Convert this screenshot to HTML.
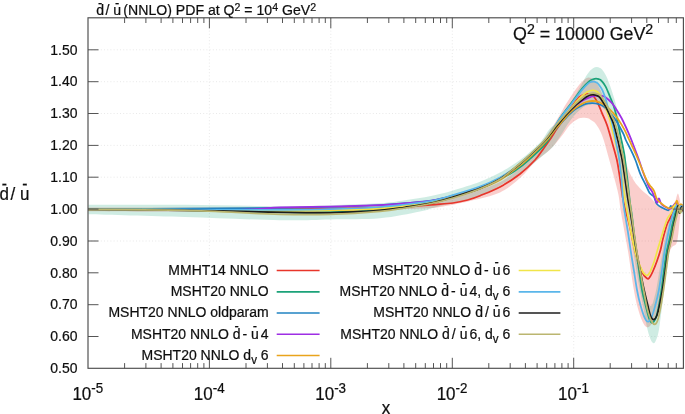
<!DOCTYPE html>
<html lang="en"><head><meta charset="utf-8"><title>d̄/ū (NNLO) PDF at Q² = 10⁴ GeV²</title>
<style>
html,body{margin:0;padding:0;background:#fff;}
body{width:685px;height:414px;overflow:hidden;}
svg{display:block;}
text{font-family:"Liberation Sans","DejaVu Sans",sans-serif;fill:#111;stroke:#111;stroke-width:0.22px;}
</style></head><body>
<svg width="685" height="414" viewBox="0 0 685 414">
<rect x="0" y="0" width="685" height="414" fill="#ffffff"/>
<defs><filter id="soft" x="0" y="0" width="685" height="414" filterUnits="userSpaceOnUse"><feGaussianBlur stdDeviation="0.32"/></filter><clipPath id="pc"><rect x="88.0" y="17.8" width="595.4" height="350.5"/></clipPath></defs>
<g filter="url(#soft)">
<rect x="-5" y="-5" width="695" height="424" fill="#ffffff"/>
<path d="M209.4 17.8V368.3M330.8 17.8V368.3M452.3 17.8V368.3M573.7 17.8V368.3M88.0 336.5H683.4M88.0 304.7H683.4M88.0 272.8H683.4M88.0 241.0H683.4M88.0 209.1H683.4M88.0 177.2H683.4M88.0 145.4H683.4M88.0 113.5H683.4M88.0 81.7H683.4M88.0 49.8H683.4" fill="none" stroke="#d0d0d0" stroke-width="1" stroke-dasharray="1 2.2" opacity="0.48"/>
<g clip-path="url(#pc)">
<path d="M88.4 207.5C104.5 207.5 153.1 207.6 185.0 207.5C216.9 207.4 255.8 207.2 280.0 207.0C304.2 206.8 313.3 206.6 330.0 206.3C346.7 206.0 365.0 205.8 380.0 205.2C395.0 204.6 410.0 203.9 420.0 203.0C430.0 202.1 431.7 201.8 440.0 200.0C448.3 198.2 460.0 195.5 470.0 192.5C480.0 189.5 491.7 186.2 500.0 182.0C508.3 177.8 514.2 172.7 520.0 167.5C525.8 162.3 530.3 156.7 535.0 151.0C539.7 145.3 544.3 138.9 548.2 133.3C552.1 127.7 555.5 122.1 558.4 117.3C561.3 112.5 563.5 108.3 565.7 104.6C568.0 100.9 569.6 98.3 571.9 95.0C574.1 91.7 577.2 87.3 579.2 84.8C581.2 82.3 582.4 81.2 584.0 80.0C585.6 78.8 587.1 77.5 588.7 77.5C590.3 77.5 592.2 78.4 593.8 79.7C595.4 81.0 596.5 82.5 598.2 85.5C599.9 88.5 602.0 93.1 604.0 98.0C606.0 102.9 607.8 108.3 610.0 115.0C612.2 121.7 615.3 131.7 617.5 138.0C619.7 144.3 621.2 147.7 623.0 153.0C624.8 158.3 626.8 165.5 628.5 170.0C630.2 174.5 631.9 177.2 633.5 179.9C635.1 182.6 636.5 184.2 638.0 186.0C639.5 187.8 640.3 188.7 642.2 190.5C644.1 192.3 647.3 194.6 649.6 196.7C651.9 198.8 653.3 200.9 655.8 202.9C658.3 204.9 662.1 207.4 664.5 208.5C666.9 209.6 668.4 209.8 670.0 209.5C671.6 209.2 673.3 208.9 674.3 207.0C675.3 205.1 675.6 200.3 676.2 198.0C676.8 195.7 677.4 193.4 677.9 193.4C678.4 193.4 678.9 195.9 679.4 198.0C679.9 200.1 680.3 204.3 681.0 206.0C681.7 207.7 683.1 207.7 683.5 208.0L683.5 205.0C683.0 206.7 681.3 210.2 680.4 215.0C679.5 219.8 679.0 229.2 678.3 234.0C677.6 238.8 677.3 241.5 676.3 243.7C675.2 245.9 673.4 244.9 672.0 247.0C670.6 249.1 669.2 251.8 668.0 256.0C666.8 260.2 666.0 266.0 665.0 272.0C664.0 278.0 663.1 286.3 662.0 292.0C660.9 297.7 659.7 301.8 658.5 306.0C657.3 310.2 656.2 314.0 655.0 317.0C653.8 320.0 652.7 322.3 651.5 324.0C650.3 325.7 649.0 327.4 647.7 327.3C646.4 327.2 645.1 326.5 643.6 323.7C642.1 320.9 640.1 316.0 638.5 310.4C636.9 304.8 635.6 299.9 633.9 290.0C632.1 280.1 629.6 260.7 628.0 251.0C626.4 241.3 625.7 238.8 624.5 232.0C623.3 225.2 621.6 216.2 620.6 210.0C619.6 203.8 619.5 200.0 618.5 195.0C617.5 190.0 616.3 185.8 614.8 180.0C613.3 174.2 611.1 166.5 609.3 160.0C607.5 153.5 605.5 145.8 604.0 140.9C602.5 136.0 601.3 133.4 600.0 130.7C598.7 128.0 597.4 126.3 596.4 124.8C595.4 123.3 594.7 122.6 593.7 121.8C592.7 121.0 591.5 120.3 590.5 119.7C589.5 119.1 589.0 118.6 588.0 118.3C587.0 118.0 585.7 117.8 584.5 117.7C583.3 117.7 582.2 117.8 581.0 118.0C579.8 118.2 579.2 118.1 577.4 119.2C575.6 120.3 572.7 121.9 570.0 124.8C567.3 127.7 564.5 132.6 561.3 136.5C558.1 140.4 555.1 144.4 551.0 148.4C546.9 152.4 541.7 155.6 536.5 160.5C531.3 165.4 526.1 172.7 520.0 178.0C513.9 183.3 508.3 188.7 500.0 192.5C491.7 196.3 480.0 198.6 470.0 201.0C460.0 203.4 448.3 205.7 440.0 207.0C431.7 208.3 430.0 208.1 420.0 208.6C410.0 209.1 395.0 209.8 380.0 210.2C365.0 210.6 346.7 210.8 330.0 211.0C313.3 211.2 304.2 211.4 280.0 211.5C255.8 211.6 216.9 211.9 185.0 211.8C153.1 211.8 104.5 211.3 88.4 211.2Z" fill="#e8261c" fill-opacity="0.225" stroke="none"/>
<path d="M88.4 204.8C104.5 204.8 153.1 204.5 185.0 204.7C216.9 204.9 255.8 206.1 280.0 206.2C304.2 206.3 313.3 205.8 330.0 205.3C346.7 204.8 367.5 204.1 380.0 203.3C392.5 202.5 396.5 201.5 405.0 200.3C413.5 199.1 423.0 197.6 431.0 196.0C439.0 194.4 444.8 192.9 453.0 190.5C461.2 188.1 472.2 184.8 480.0 181.8C487.8 178.8 493.3 176.1 500.0 172.5C506.7 168.9 513.3 165.0 520.0 160.0C526.7 155.0 535.0 147.8 540.0 142.5C545.0 137.2 546.5 132.2 550.0 128.5C553.5 124.8 557.8 123.9 561.0 120.0C564.2 116.1 566.5 109.7 569.0 105.3C571.5 100.9 573.9 97.7 576.3 93.6C578.7 89.5 581.9 83.5 583.6 80.5C585.3 77.5 585.5 77.0 586.5 75.5C587.5 74.0 588.3 72.7 589.4 71.5C590.5 70.3 591.8 69.0 593.0 68.3C594.2 67.5 595.5 67.0 596.7 67.0C597.9 67.0 599.0 67.5 600.0 68.0C601.0 68.5 601.5 68.6 602.6 70.2C603.8 71.8 605.5 74.3 606.9 77.5C608.3 80.7 609.8 84.8 611.3 89.2C612.8 93.6 614.4 98.7 615.7 103.8C617.0 108.9 618.2 114.0 619.3 120.0C620.3 126.0 621.1 133.3 622.0 140.0C622.9 146.7 623.3 150.0 624.5 160.0C625.7 170.0 627.4 187.5 629.0 200.0C630.6 212.5 632.2 223.3 634.0 235.0C635.8 246.7 638.1 260.3 640.0 270.0C641.9 279.7 643.8 287.0 645.6 293.0C647.4 299.0 649.1 306.1 650.8 306.1C652.4 306.1 654.0 299.0 655.5 293.0C657.0 287.0 658.1 278.2 659.5 270.0C660.9 261.8 662.6 251.3 664.0 244.0C665.4 236.7 666.7 231.3 668.0 226.0C669.3 220.7 670.7 215.8 672.0 212.0C673.3 208.2 674.7 204.2 676.0 203.0C677.3 201.8 678.8 204.8 680.0 205.0C681.2 205.2 682.9 204.2 683.5 204.0L683.5 214.0C682.9 213.8 681.2 212.3 680.0 213.0C678.8 213.7 677.3 214.2 676.0 218.0C674.7 221.8 673.3 228.7 672.0 236.0C670.7 243.3 669.3 252.8 668.0 262.0C666.7 271.2 665.1 282.8 664.0 291.0C662.9 299.2 662.4 304.5 661.5 311.0C660.6 317.5 659.7 325.3 658.9 330.0C658.1 334.7 657.4 336.8 656.5 339.0C655.6 341.2 654.7 343.5 653.6 343.3C652.5 343.1 651.1 340.9 650.0 338.0C648.9 335.1 647.8 331.0 646.7 326.0C645.6 321.0 644.9 315.7 643.4 308.0C641.9 300.3 639.7 289.7 638.0 280.0C636.3 270.3 634.8 261.3 633.0 250.0C631.2 238.7 628.8 223.7 627.0 212.0C625.2 200.3 623.9 190.7 622.5 180.0C621.1 169.3 619.8 156.3 618.5 148.0C617.2 139.7 616.2 134.8 615.0 130.0C613.8 125.2 612.5 122.2 611.0 119.0C609.5 115.8 607.7 113.1 606.0 111.0C604.3 108.9 602.6 107.3 600.9 106.2C599.2 105.1 597.6 104.9 596.0 104.6C594.4 104.3 592.7 104.2 591.0 104.4C589.3 104.6 587.8 104.8 586.0 105.6C584.2 106.4 582.5 107.7 580.4 109.5C578.3 111.3 575.5 114.1 573.3 116.7C571.1 119.3 568.9 122.5 567.0 125.3C565.1 128.1 563.7 130.9 562.0 133.5C560.3 136.1 558.8 138.5 557.0 141.0C555.2 143.5 554.8 145.1 551.5 148.3C548.2 151.6 542.2 156.3 537.0 160.5C531.8 164.7 526.2 169.3 520.0 173.5C513.8 177.7 506.7 181.6 500.0 185.4C493.3 189.2 490.0 192.8 480.0 196.2C470.0 199.6 450.0 203.4 440.0 206.0C430.0 208.6 430.0 209.5 420.0 211.5C410.0 213.5 395.0 216.9 380.0 218.2C365.0 219.5 346.7 219.1 330.0 219.4C313.3 219.7 304.2 220.6 280.0 220.2C255.8 219.8 216.9 218.0 185.0 217.0C153.1 216.0 104.5 214.7 88.4 214.2Z" fill="#109e73" fill-opacity="0.2" stroke="none"/>
<path d="M88.4 209.3C104.5 209.4 153.1 209.6 185.0 209.6C216.9 209.6 255.8 209.4 280.0 209.2C304.2 209.0 313.3 208.8 330.0 208.6C346.7 208.3 367.5 208.0 380.0 207.7C392.5 207.4 396.5 207.5 405.0 207.0C413.5 206.5 423.0 205.5 431.0 204.8C439.0 204.1 446.9 203.8 453.0 203.0C459.1 202.2 463.1 201.2 467.6 200.0C472.1 198.8 474.6 197.9 480.0 195.7C485.4 193.5 493.3 190.6 500.0 187.0C506.7 183.4 514.2 178.5 520.0 174.0C525.8 169.5 531.0 164.3 535.0 160.0C539.0 155.7 541.1 151.9 543.8 148.2C546.5 144.5 548.8 141.3 551.0 138.0C553.2 134.7 555.0 131.5 557.0 128.5C559.0 125.5 560.6 123.6 563.1 120.0C565.6 116.4 569.2 110.5 571.9 106.7C574.6 102.9 577.3 99.2 579.2 97.2C581.1 95.2 582.2 95.2 583.5 94.7C584.8 94.2 586.0 93.9 587.2 93.9C588.4 93.9 589.4 94.2 590.5 94.6C591.6 95.0 592.5 95.0 593.8 96.5C595.1 98.0 596.9 101.1 598.2 103.8C599.5 106.5 600.3 109.1 601.8 112.6C603.2 116.1 605.2 119.9 606.9 124.8C608.6 129.7 610.3 136.1 612.0 142.0C613.7 147.9 615.5 153.7 616.9 160.0C618.3 166.3 619.2 173.8 620.2 180.0C621.2 186.2 621.7 192.0 622.6 197.0C623.5 202.0 624.3 205.5 625.4 210.0C626.5 214.5 628.2 219.8 629.2 224.0C630.2 228.2 630.7 230.6 631.6 235.0C632.5 239.4 633.8 245.9 634.9 250.5C636.0 255.1 637.2 258.8 638.5 262.5C639.8 266.2 641.4 270.5 642.6 273.0C643.8 275.5 644.9 276.4 645.8 277.4C646.7 278.4 647.4 279.0 648.2 278.8C649.0 278.6 649.7 277.2 650.5 276.0C651.3 274.8 651.7 274.0 652.8 271.5C653.9 269.0 655.6 264.8 656.9 261.2C658.2 257.6 659.5 253.8 660.5 250.0C661.5 246.2 661.9 242.9 663.0 238.6C664.1 234.3 665.9 227.7 667.1 224.3C668.3 220.9 669.3 220.2 670.2 218.2C671.1 216.1 671.8 213.7 672.6 212.0C673.4 210.3 674.3 208.2 675.0 208.0C675.7 207.8 676.3 211.2 677.0 211.0C677.7 210.8 678.3 207.3 679.0 207.0C679.7 206.7 680.2 208.3 681.0 209.0C681.8 209.7 683.1 210.7 683.5 211.0" fill="none" stroke="#e8342a" stroke-width="1.75" stroke-linejoin="round" stroke-linecap="round"/>
<path d="M88.4 209.4C104.5 209.5 153.1 209.8 185.0 210.2C216.9 210.6 255.8 211.7 280.0 212.0C304.2 212.3 313.3 212.5 330.0 212.2C346.7 211.9 367.5 211.1 380.0 210.2C392.5 209.3 396.5 208.2 405.0 207.0C413.5 205.8 423.0 204.5 431.0 202.8C439.0 201.1 444.8 199.3 453.0 196.9C461.2 194.5 472.2 191.4 480.0 188.4C487.8 185.4 494.2 181.9 500.0 179.0C505.8 176.1 510.2 173.9 515.0 170.7C519.8 167.5 523.3 164.9 528.7 160.0C534.1 155.1 542.4 148.2 547.4 141.5C552.4 134.8 554.7 126.5 558.8 120.0C562.9 113.5 568.0 107.5 571.9 102.3C575.8 97.0 579.2 92.0 582.1 88.5C585.0 85.0 587.6 82.7 589.4 81.2C591.2 79.7 591.9 79.7 593.0 79.3C594.1 78.9 595.0 78.7 596.0 78.7C597.0 78.7 597.9 78.9 598.8 79.2C599.6 79.5 600.0 79.2 601.1 80.4C602.2 81.6 604.0 83.6 605.5 86.3C607.0 89.0 608.6 93.3 609.9 96.5C611.2 99.7 612.4 102.2 613.5 105.5C614.6 108.8 615.3 111.3 616.4 116.0C617.5 120.7 618.8 127.8 620.0 133.6C621.2 139.4 622.9 146.6 623.7 151.0C624.6 155.4 624.5 155.2 625.1 160.0C625.7 164.8 626.7 173.3 627.5 180.0C628.3 186.7 628.9 193.3 629.7 200.0C630.5 206.7 631.5 211.7 632.5 220.0C633.5 228.3 634.9 241.7 636.0 250.0C637.1 258.3 638.0 263.3 639.0 270.0C640.0 276.7 640.9 284.1 642.0 290.0C643.1 295.9 644.4 300.5 645.6 305.3C646.8 310.1 648.1 315.7 649.2 318.6C650.3 321.5 651.2 322.9 652.3 322.7C653.4 322.5 654.8 320.5 655.9 317.6C657.0 314.7 658.0 309.9 658.9 305.3C659.8 300.7 660.6 295.9 661.5 290.0C662.4 284.1 663.1 276.3 664.0 270.0C664.9 263.7 665.7 257.2 666.6 252.0C667.5 246.8 668.7 243.0 669.6 238.6C670.5 234.2 671.4 228.9 672.2 225.3C673.0 221.7 673.7 219.2 674.2 217.0C674.8 214.8 675.0 213.7 675.5 212.0C676.0 210.3 676.8 207.0 677.5 207.0C678.2 207.0 678.8 211.8 679.5 212.0C680.2 212.2 680.8 208.3 681.5 208.0C682.2 207.7 683.2 209.7 683.5 210.0" fill="none" stroke="#1aa279" stroke-width="1.75" stroke-linejoin="round" stroke-linecap="round"/>
<path d="M88.4 209.1C104.5 209.0 153.1 208.9 185.0 208.7C216.9 208.5 255.8 208.2 280.0 207.9C304.2 207.6 313.3 207.5 330.0 207.0C346.7 206.5 367.5 205.6 380.0 205.0C392.5 204.4 396.5 203.9 405.0 203.2C413.5 202.5 423.0 201.9 431.0 200.7C439.0 199.4 444.8 197.9 453.0 195.7C461.2 193.5 472.2 190.2 480.0 187.3C487.8 184.4 494.2 181.5 500.0 178.5C505.8 175.5 510.6 172.2 515.0 169.1C519.4 166.0 521.2 164.6 526.3 160.0C531.4 155.4 540.6 146.8 545.6 141.6C550.6 136.4 553.1 132.4 556.0 129.0C558.9 125.6 560.6 123.6 563.0 121.0C565.4 118.4 568.2 115.4 570.4 113.3C572.6 111.2 574.1 110.0 576.3 108.6C578.5 107.2 581.6 105.7 583.6 104.8C585.6 103.9 586.5 103.7 588.0 103.4C589.5 103.1 591.0 103.1 592.3 103.1C593.6 103.1 594.8 103.3 596.0 103.5C597.2 103.7 598.2 103.9 599.6 104.5C601.0 105.1 602.5 105.5 604.5 107.2C606.5 108.9 609.6 112.3 611.5 114.5C613.4 116.7 614.1 117.4 616.0 120.5C617.9 123.6 621.4 129.8 623.0 133.0C624.6 136.2 624.6 137.4 625.8 140.0C627.0 142.6 628.7 145.5 630.3 148.8C631.9 152.1 633.7 155.8 635.4 160.0C637.1 164.2 638.7 170.1 640.5 174.3C642.3 178.6 644.5 182.4 646.0 185.5C647.5 188.6 648.3 191.1 649.6 193.0C650.9 194.9 652.8 194.9 654.0 196.7C655.2 198.5 655.2 202.0 656.9 204.0C658.6 206.0 662.2 207.7 664.2 208.7C666.2 209.7 667.5 210.7 668.6 210.2C669.7 209.7 670.1 206.0 670.8 205.8C671.5 205.6 672.2 209.3 673.0 209.0C673.8 208.7 674.8 204.0 675.5 204.0C676.2 204.0 676.8 208.7 677.5 209.0C678.2 209.3 679.0 206.0 680.0 206.0C681.0 206.0 682.9 208.5 683.5 209.0" fill="none" stroke="#2283c2" stroke-width="1.75" stroke-linejoin="round" stroke-linecap="round"/>
<path d="M88.4 209.5C104.5 209.6 159.7 209.9 185.0 210.0C210.3 210.1 227.0 210.1 240.0 209.9C253.0 209.7 256.3 209.0 263.0 208.6C269.7 208.2 268.8 207.7 280.0 207.4C291.2 207.1 313.3 207.0 330.0 206.6C346.7 206.2 367.5 205.6 380.0 205.1C392.5 204.6 396.5 204.0 405.0 203.3C413.5 202.6 423.0 202.0 431.0 200.8C439.0 199.6 444.8 198.3 453.0 196.1C461.2 193.9 472.2 190.6 480.0 187.8C487.8 185.0 494.2 182.5 500.0 179.3C505.8 176.1 510.8 171.8 515.0 168.6C519.2 165.4 520.5 164.5 525.5 160.0C530.5 155.5 539.8 146.8 544.9 141.5C550.0 136.2 553.1 131.6 556.0 128.0C558.9 124.4 560.3 122.7 562.5 120.0C564.7 117.3 566.7 114.5 569.0 112.0C571.3 109.5 573.9 107.0 576.3 105.0C578.7 103.0 581.2 101.4 583.6 100.0C586.0 98.6 589.0 97.5 590.9 96.8C592.8 96.1 593.7 96.0 595.0 95.8C596.3 95.6 597.7 95.5 598.9 95.5C600.1 95.5 600.9 95.6 602.0 95.9C603.1 96.2 604.0 96.1 605.5 97.2C607.0 98.3 609.7 100.6 611.3 102.3C612.9 104.0 613.3 104.6 615.0 107.2C616.7 109.8 619.2 113.6 621.5 118.0C623.8 122.4 626.6 128.6 628.8 133.6C631.0 138.6 632.9 143.8 634.6 148.2C636.3 152.6 637.6 156.0 639.0 160.0C640.4 164.0 641.8 168.5 643.0 172.0C644.2 175.5 645.5 178.5 646.5 181.0C647.5 183.5 648.0 185.1 649.0 187.0C650.0 188.9 651.2 189.7 652.5 192.3C653.8 194.9 655.8 201.5 656.9 202.5C658.0 203.5 658.3 198.2 659.0 198.5C659.7 198.8 660.2 202.6 661.3 204.0C662.4 205.4 664.2 206.2 665.7 207.0C667.2 207.8 668.8 209.2 670.0 209.0C671.2 208.8 672.0 207.0 673.0 206.0C674.0 205.0 675.2 202.7 676.0 203.0C676.8 203.3 677.3 207.7 678.0 208.0C678.7 208.3 679.1 205.0 680.0 205.0C680.9 205.0 682.9 207.5 683.5 208.0" fill="none" stroke="#9e2ee4" stroke-width="1.75" stroke-linejoin="round" stroke-linecap="round"/>
<path d="M88.4 209.4C104.5 209.5 153.1 209.6 185.0 209.8C216.9 210.0 255.8 210.5 280.0 210.6C304.2 210.7 313.3 210.7 330.0 210.4C346.7 210.1 367.5 209.3 380.0 208.6C392.5 207.9 396.5 207.1 405.0 206.1C413.5 205.1 423.0 204.0 431.0 202.5C439.0 201.0 444.8 199.6 453.0 197.3C461.2 195.0 472.2 191.7 480.0 188.8C487.8 185.9 494.2 183.3 500.0 180.0C505.8 176.7 510.6 172.5 515.0 169.2C519.4 165.9 521.4 164.6 526.5 160.0C531.6 155.4 540.9 146.8 545.8 141.5C550.7 136.2 553.1 132.0 556.0 128.5C558.9 125.0 560.7 123.1 563.0 120.5C565.3 117.9 567.5 115.2 569.7 113.0C571.9 110.8 574.0 109.1 576.3 107.4C578.6 105.7 581.6 104.0 583.6 103.0C585.6 102.0 586.5 101.8 588.0 101.5C589.5 101.2 591.0 101.0 592.3 100.9C593.6 100.9 594.8 101.0 596.0 101.2C597.2 101.4 597.8 101.4 599.6 102.3C601.4 103.2 604.7 105.0 606.9 106.7C609.1 108.4 610.8 110.4 612.8 112.6C614.8 114.8 616.7 117.2 618.6 120.0C620.5 122.8 622.7 126.4 624.4 129.6C626.1 132.8 627.6 136.4 628.8 139.0C630.0 141.6 630.1 141.8 631.7 145.3C633.3 148.8 635.9 154.3 638.3 160.0C640.7 165.7 644.4 175.2 646.3 179.4C648.2 183.6 648.3 183.1 649.6 185.0C650.9 186.9 652.8 188.5 654.0 190.8C655.2 193.1 655.6 196.7 656.9 198.9C658.2 201.1 659.9 202.4 662.0 204.0C664.1 205.6 667.2 208.2 669.3 208.4C671.4 208.6 673.1 206.7 674.4 205.4C675.7 204.1 676.3 200.4 677.0 200.7C677.7 201.0 678.1 206.4 678.8 207.0C679.5 207.6 680.2 204.0 681.0 204.0C681.8 204.0 683.1 206.5 683.5 207.0" fill="none" stroke="#e9a41c" stroke-width="1.75" stroke-linejoin="round" stroke-linecap="round"/>
<path d="M88.4 209.4C104.5 209.5 153.1 209.7 185.0 209.9C216.9 210.1 255.8 210.4 280.0 210.4C304.2 210.4 313.3 210.3 330.0 210.0C346.7 209.7 367.5 209.0 380.0 208.3C392.5 207.6 396.5 206.8 405.0 205.8C413.5 204.8 423.0 203.7 431.0 202.2C439.0 200.7 444.8 199.0 453.0 196.7C461.2 194.4 472.2 191.2 480.0 188.2C487.8 185.2 494.2 182.1 500.0 178.8C505.8 175.5 510.8 171.4 515.0 168.3C519.2 165.2 520.1 164.5 525.0 160.0C529.9 155.5 539.3 147.2 544.6 141.5C549.9 135.8 553.7 129.7 557.0 125.5C560.3 121.3 562.1 119.5 564.6 116.5C567.1 113.5 569.5 110.2 571.9 107.2C574.3 104.2 577.0 101.0 579.2 98.7C581.4 96.4 583.3 94.7 585.0 93.4C586.7 92.1 588.1 91.5 589.5 91.0C590.9 90.5 591.9 90.3 593.1 90.4C594.3 90.5 595.4 90.8 596.5 91.4C597.6 92.1 598.4 92.5 599.6 94.3C600.9 96.1 602.8 99.5 604.0 102.3C605.2 105.1 605.9 108.0 606.9 111.0C607.9 114.0 609.0 117.0 609.9 120.0C610.8 123.0 610.9 124.7 612.0 129.2C613.1 133.6 615.2 141.6 616.4 146.7C617.6 151.8 618.3 154.4 619.3 160.0C620.3 165.6 621.3 173.3 622.3 180.0C623.3 186.7 624.4 195.0 625.2 200.0C626.0 205.0 625.9 204.7 626.9 210.0C627.9 215.3 629.7 225.2 631.0 232.0C632.3 238.8 633.6 245.4 634.9 250.5C636.1 255.6 637.2 258.8 638.5 262.3C639.8 265.8 641.5 269.4 642.6 271.5C643.7 273.6 644.4 274.0 645.2 274.6C646.0 275.2 646.5 275.5 647.2 275.3C647.9 275.1 648.6 274.3 649.2 273.5C649.8 272.7 649.9 272.4 650.8 270.4C651.6 268.3 653.2 264.6 654.3 261.2C655.4 257.8 656.4 253.8 657.5 250.0C658.6 246.2 659.8 242.7 661.0 238.6C662.2 234.5 663.9 228.7 665.0 225.3C666.1 221.9 666.6 220.2 667.6 218.2C668.6 216.1 670.0 215.2 671.2 213.0C672.4 210.8 674.0 205.5 675.0 205.0C676.0 204.5 676.3 209.8 677.0 210.0C677.7 210.2 678.3 206.2 679.0 206.0C679.7 205.8 680.2 208.8 681.0 209.0C681.8 209.2 683.1 207.3 683.5 207.0" fill="none" stroke="#f1e54a" stroke-width="1.75" stroke-linejoin="round" stroke-linecap="round"/>
<path d="M88.4 209.4C104.5 209.4 153.1 209.6 185.0 209.7C216.9 209.8 255.8 209.9 280.0 209.8C304.2 209.7 313.3 209.7 330.0 209.2C346.7 208.7 367.5 207.8 380.0 207.0C392.5 206.2 396.5 205.5 405.0 204.5C413.5 203.5 423.0 202.8 431.0 201.2C439.0 199.6 444.8 197.5 453.0 195.1C461.2 192.7 472.2 189.5 480.0 186.6C487.8 183.7 494.2 180.6 500.0 177.5C505.8 174.4 510.9 170.8 515.0 167.9C519.0 165.0 519.5 164.4 524.3 160.0C529.1 155.6 538.3 148.1 544.0 141.5C549.7 134.9 554.0 126.9 558.6 120.5C563.2 114.1 568.0 108.3 571.9 103.2C575.8 98.1 579.4 93.2 582.1 89.9C584.8 86.6 586.5 84.9 588.0 83.6C589.5 82.3 590.2 82.2 591.2 81.9C592.2 81.6 592.9 81.5 593.8 81.6C594.7 81.7 595.6 82.1 596.5 82.6C597.4 83.1 597.9 83.4 598.9 84.8C599.9 86.2 601.4 88.0 602.6 90.7C603.8 93.4 605.1 97.3 606.2 100.9C607.3 104.5 608.2 109.0 609.1 112.2C610.0 115.4 610.4 116.7 611.3 120.0C612.1 123.3 613.3 127.7 614.2 132.0C615.1 136.3 616.1 142.2 616.8 146.0C617.5 149.8 618.1 151.8 618.6 155.0C619.1 158.2 619.5 160.8 620.0 165.0C620.5 169.2 621.1 174.2 621.6 180.0C622.1 185.8 622.5 195.0 623.0 200.0C623.5 205.0 623.5 205.0 624.3 210.0C625.1 215.0 626.5 223.3 627.6 230.0C628.7 236.7 629.6 243.3 630.6 250.0C631.6 256.7 632.7 263.3 633.8 270.0C634.9 276.7 635.9 284.1 637.0 290.0C638.1 295.9 639.2 300.7 640.5 305.3C641.8 309.9 643.3 314.9 644.6 317.6C645.9 320.3 647.0 321.9 648.2 321.7C649.4 321.5 650.6 319.3 651.8 316.6C653.0 313.9 654.1 309.7 655.3 305.3C656.5 300.9 657.8 295.9 658.9 290.0C660.0 284.1 661.1 276.3 662.0 270.0C662.9 263.7 663.6 257.2 664.5 252.0C665.4 246.8 666.1 243.2 667.1 238.6C668.1 234.0 669.3 228.2 670.2 224.3C671.1 220.4 671.9 217.6 672.7 215.0C673.5 212.4 674.3 210.7 675.0 209.0C675.7 207.3 676.3 204.9 677.0 205.0C677.7 205.1 678.3 209.3 679.0 209.5C679.7 209.7 680.2 206.2 681.0 206.0C681.8 205.8 683.1 207.7 683.5 208.0" fill="none" stroke="#5ab6ea" stroke-width="1.75" stroke-linejoin="round" stroke-linecap="round"/>
<path d="M88.4 209.5C104.5 209.6 153.1 209.8 185.0 210.3C216.9 210.8 255.8 212.0 280.0 212.4C304.2 212.8 313.3 213.1 330.0 212.8C346.7 212.5 367.5 211.3 380.0 210.4C392.5 209.5 396.5 208.5 405.0 207.3C413.5 206.1 423.0 204.9 431.0 203.2C439.0 201.5 444.8 199.6 453.0 197.1C461.2 194.6 472.2 191.4 480.0 188.4C487.8 185.4 494.2 182.4 500.0 179.0C505.8 175.6 510.9 171.1 515.0 167.9C519.1 164.7 519.5 164.4 524.4 160.0C529.2 155.6 538.6 147.3 544.1 141.5C549.6 135.7 553.8 129.4 557.5 125.0C561.2 120.6 563.0 118.4 566.1 115.0C569.2 111.6 573.4 107.4 576.3 104.7C579.2 102.0 581.6 100.2 583.6 98.7C585.6 97.2 587.0 96.3 588.5 95.6C590.0 94.9 591.0 94.7 592.3 94.6C593.5 94.5 594.8 94.8 596.0 95.2C597.2 95.6 598.3 95.8 599.6 97.2C600.9 98.6 602.6 101.6 604.0 103.8C605.4 106.0 606.6 108.3 607.7 110.5C608.8 112.7 609.6 114.8 610.6 117.0C611.6 119.2 612.3 119.7 613.5 123.5C614.7 127.3 616.6 135.2 617.8 140.0C618.9 144.8 619.7 148.7 620.4 152.0C621.1 155.3 621.4 155.3 622.2 160.0C623.0 164.7 624.2 173.3 625.2 180.0C626.2 186.7 627.2 194.7 628.1 200.0C629.0 205.3 629.4 206.7 630.3 212.0C631.2 217.3 632.5 225.7 633.5 232.0C634.5 238.3 635.2 243.7 636.3 250.0C637.4 256.3 638.7 263.3 640.0 270.0C641.3 276.7 642.8 284.1 644.1 290.0C645.4 295.9 646.6 300.9 647.7 305.3C648.8 309.7 649.8 314.2 650.8 316.6C651.8 319.0 652.8 319.8 653.8 319.6C654.8 319.4 655.9 318.2 656.9 315.5C657.9 312.8 659.1 307.6 660.0 303.3C660.9 299.1 661.6 295.6 662.5 290.0C663.4 284.4 664.5 276.3 665.4 270.0C666.3 263.7 667.1 257.2 668.1 252.0C669.1 246.8 670.3 243.0 671.2 238.6C672.1 234.2 672.9 229.4 673.7 225.3C674.6 221.2 675.6 217.2 676.3 214.0C677.0 210.8 677.3 206.2 677.8 206.0C678.3 205.8 678.9 212.8 679.5 213.0C680.1 213.2 680.8 207.3 681.5 207.0C682.2 206.7 683.2 210.3 683.5 211.0" fill="none" stroke="#1c1c1c" stroke-width="1.75" stroke-linejoin="round" stroke-linecap="round"/>
<path d="M88.4 209.6C104.5 209.7 153.1 209.6 185.0 210.4C216.9 211.2 255.8 213.6 280.0 214.3C304.2 215.0 313.3 214.9 330.0 214.4C346.7 213.9 367.5 212.5 380.0 211.4C392.5 210.3 396.5 209.3 405.0 208.0C413.5 206.7 423.0 205.2 431.0 203.5C439.0 201.8 444.8 200.5 453.0 198.0C461.2 195.5 472.2 191.8 480.0 188.7C487.8 185.6 494.2 182.8 500.0 179.3C505.8 175.8 511.0 170.7 515.0 167.5C519.0 164.3 519.1 164.3 523.9 160.0C528.6 155.7 538.1 147.3 543.5 141.5C548.9 135.7 552.7 129.4 556.2 125.0C559.8 120.6 561.7 118.5 564.8 115.0C567.9 111.5 572.0 107.2 575.0 104.3C578.0 101.4 580.3 99.4 582.5 97.7C584.7 96.0 586.5 95.0 588.2 94.3C589.9 93.5 591.3 93.3 592.8 93.2C594.3 93.1 595.6 93.3 597.0 93.8C598.4 94.3 599.5 94.6 600.9 96.1C602.3 97.6 604.1 100.7 605.5 103.0C606.9 105.3 608.1 107.7 609.2 110.0C610.3 112.3 611.1 114.4 612.1 116.6C613.1 118.8 613.9 119.3 615.1 123.3C616.4 127.3 618.2 134.4 619.6 140.5C621.0 146.6 622.5 153.4 623.7 160.0C624.9 166.6 625.6 173.3 626.6 180.0C627.6 186.7 628.5 193.3 629.5 200.0C630.5 206.7 631.1 211.7 632.3 220.0C633.5 228.3 635.3 241.7 636.6 250.0C637.9 258.3 638.8 263.3 640.0 270.0C641.2 276.7 642.3 283.3 643.6 290.0C644.9 296.7 646.3 305.1 647.7 310.4C649.1 315.7 650.5 319.4 651.8 321.7C653.1 324.0 654.3 324.5 655.3 324.2C656.3 323.9 656.9 322.8 657.9 319.6C658.9 316.5 660.1 310.2 661.0 305.3C661.9 300.4 662.6 295.9 663.5 290.0C664.4 284.1 665.4 276.3 666.2 270.0C667.1 263.7 667.7 257.2 668.6 252.0C669.5 246.8 670.8 243.0 671.8 238.6C672.8 234.2 673.5 229.2 674.4 225.3C675.2 221.4 676.2 218.1 676.9 215.0C677.6 211.9 678.0 207.3 678.6 207.0C679.2 206.7 679.7 212.8 680.3 213.0C680.9 213.2 681.5 208.5 682.0 208.0C682.5 207.5 683.2 209.7 683.5 210.0" fill="none" stroke="#bbb670" stroke-width="1.75" stroke-linejoin="round" stroke-linecap="round"/>
</g>
<rect x="89" y="257.5" width="480" height="110" fill="#ffffff"/>
<path d="M124.6 368.3v-5.2M124.6 17.8v5.2M145.9 368.3v-5.2M145.9 17.8v5.2M161.1 368.3v-5.2M161.1 17.8v5.2M172.9 368.3v-5.2M172.9 17.8v5.2M182.5 368.3v-5.2M182.5 17.8v5.2M190.6 368.3v-5.2M190.6 17.8v5.2M197.7 368.3v-5.2M197.7 17.8v5.2M203.9 368.3v-5.2M203.9 17.8v5.2M209.4 368.3v-10.5M209.4 17.8v10.5M246.0 368.3v-5.2M246.0 17.8v5.2M267.4 368.3v-5.2M267.4 17.8v5.2M282.5 368.3v-5.2M282.5 17.8v5.2M294.3 368.3v-5.2M294.3 17.8v5.2M303.9 368.3v-5.2M303.9 17.8v5.2M312.0 368.3v-5.2M312.0 17.8v5.2M319.1 368.3v-5.2M319.1 17.8v5.2M325.3 368.3v-5.2M325.3 17.8v5.2M330.8 368.3v-10.5M330.8 17.8v10.5M367.4 368.3v-5.2M367.4 17.8v5.2M388.8 368.3v-5.2M388.8 17.8v5.2M403.9 368.3v-5.2M403.9 17.8v5.2M415.7 368.3v-5.2M415.7 17.8v5.2M425.3 368.3v-5.2M425.3 17.8v5.2M433.5 368.3v-5.2M433.5 17.8v5.2M440.5 368.3v-5.2M440.5 17.8v5.2M446.7 368.3v-5.2M446.7 17.8v5.2M452.3 368.3v-10.5M452.3 17.8v10.5M488.8 368.3v-5.2M488.8 17.8v5.2M510.2 368.3v-5.2M510.2 17.8v5.2M525.4 368.3v-5.2M525.4 17.8v5.2M537.1 368.3v-5.2M537.1 17.8v5.2M546.7 368.3v-5.2M546.7 17.8v5.2M554.9 368.3v-5.2M554.9 17.8v5.2M561.9 368.3v-5.2M561.9 17.8v5.2M568.1 368.3v-5.2M568.1 17.8v5.2M573.7 368.3v-10.5M573.7 17.8v10.5M610.2 368.3v-5.2M610.2 17.8v5.2M631.6 368.3v-5.2M631.6 17.8v5.2M646.8 368.3v-5.2M646.8 17.8v5.2M658.5 368.3v-5.2M658.5 17.8v5.2M668.2 368.3v-5.2M668.2 17.8v5.2M676.3 368.3v-5.2M676.3 17.8v5.2M88.0 336.5h10.5M683.4 336.5h-10.5M88.0 304.7h10.5M683.4 304.7h-10.5M88.0 272.8h10.5M683.4 272.8h-10.5M88.0 241.0h10.5M683.4 241.0h-10.5M88.0 209.1h10.5M683.4 209.1h-10.5M88.0 177.2h10.5M683.4 177.2h-10.5M88.0 145.4h10.5M683.4 145.4h-10.5M88.0 113.5h10.5M683.4 113.5h-10.5M88.0 81.7h10.5M683.4 81.7h-10.5M88.0 49.8h10.5M683.4 49.8h-10.5" fill="none" stroke="#555555" stroke-width="1.0"/>
<rect x="88.0" y="17.8" width="595.4" height="350.5" fill="none" stroke="#4c4c4c" stroke-width="1.15"/>
<g opacity="0.999">
<text transform="translate(77.50 373.20) scale(1.000 1.100)" font-size="14.00px" text-anchor="end">0.50</text>
<text transform="translate(77.50 341.34) scale(1.000 1.100)" font-size="14.00px" text-anchor="end">0.60</text>
<text transform="translate(77.50 309.48) scale(1.000 1.100)" font-size="14.00px" text-anchor="end">0.70</text>
<text transform="translate(77.50 277.62) scale(1.000 1.100)" font-size="14.00px" text-anchor="end">0.80</text>
<text transform="translate(77.50 245.76) scale(1.000 1.100)" font-size="14.00px" text-anchor="end">0.90</text>
<text transform="translate(77.50 213.90) scale(1.000 1.100)" font-size="14.00px" text-anchor="end">1.00</text>
<text transform="translate(77.50 182.04) scale(1.000 1.100)" font-size="14.00px" text-anchor="end">1.10</text>
<text transform="translate(77.50 150.18) scale(1.000 1.100)" font-size="14.00px" text-anchor="end">1.20</text>
<text transform="translate(77.50 118.32) scale(1.000 1.100)" font-size="14.00px" text-anchor="end">1.30</text>
<text transform="translate(77.50 86.46) scale(1.000 1.100)" font-size="14.00px" text-anchor="end">1.40</text>
<text transform="translate(77.50 54.60) scale(1.000 1.100)" font-size="14.00px" text-anchor="end">1.50</text>
<text transform="translate(87.80 400.40) scale(1.000 1.120)" font-size="17.00px" text-anchor="middle">10<tspan dy="-6.40" font-size="13.40px">-5</tspan><tspan dy="6.40" font-size="0.1px">&#8203;</tspan></text>
<text transform="translate(209.22 400.40) scale(1.000 1.120)" font-size="17.00px" text-anchor="middle">10<tspan dy="-6.40" font-size="13.40px">-4</tspan><tspan dy="6.40" font-size="0.1px">&#8203;</tspan></text>
<text transform="translate(330.64 400.40) scale(1.000 1.120)" font-size="17.00px" text-anchor="middle">10<tspan dy="-6.40" font-size="13.40px">-3</tspan><tspan dy="6.40" font-size="0.1px">&#8203;</tspan></text>
<text transform="translate(452.06 400.40) scale(1.000 1.120)" font-size="17.00px" text-anchor="middle">10<tspan dy="-6.40" font-size="13.40px">-2</tspan><tspan dy="6.40" font-size="0.1px">&#8203;</tspan></text>
<text transform="translate(573.48 400.40) scale(1.000 1.120)" font-size="17.00px" text-anchor="middle">10<tspan dy="-6.40" font-size="13.40px">-1</tspan><tspan dy="6.40" font-size="0.1px">&#8203;</tspan></text>
<text transform="translate(385.95 413.60) scale(1.000 1.100)" font-size="17.00px" text-anchor="middle">x</text>
<text transform="translate(-0.40 199.60) scale(1.000 1.120)" font-size="17.00px" text-anchor="start">d<tspan dx="-7.33" dy="-8.41" font-size="15.64px">-</tspan><tspan dx="3.65" dy="8.41" font-size="0.1px">&#8203;</tspan>/ u<tspan dx="-7.33" dy="-8.41" font-size="15.64px">-</tspan><tspan dx="3.65" dy="8.41" font-size="0.1px">&#8203;</tspan></text>
<text transform="translate(96.20 14.90) scale(1.000 1.100)" font-size="14.10px" text-anchor="start">d<tspan dx="-6.04" dy="-6.02" font-size="12.88px">-</tspan><tspan dx="3.15" dy="6.02" font-size="0.1px">&#8203;</tspan>/ u<tspan dx="-6.04" dy="-6.02" font-size="12.88px">-</tspan><tspan dx="3.99" dy="6.02" font-size="0.1px">&#8203;</tspan>(NNLO) PDF at Q<tspan dy="-3.70" font-size="10.60px">2</tspan><tspan dy="3.70" font-size="0.1px">&#8203;</tspan> = 10<tspan dy="-3.70" font-size="10.60px">4</tspan><tspan dy="3.70" font-size="0.1px">&#8203;</tspan> GeV<tspan dy="-3.70" font-size="10.60px">2</tspan><tspan dy="3.70" font-size="0.1px">&#8203;</tspan></text>
<text transform="translate(513.00 40.40) scale(1.000 1.080)" font-size="17.85px" text-anchor="start">Q<tspan dy="-6.00" font-size="14.20px">2</tspan><tspan dy="6.00" font-size="0.1px">&#8203;</tspan> = 10000 GeV<tspan dy="-6.00" font-size="14.20px">2</tspan><tspan dy="6.00" font-size="0.1px">&#8203;</tspan></text>
<text transform="translate(268.60 274.90) scale(1.000 1.100)" font-size="14.00px" text-anchor="end">MMHT14 NNLO</text>
<text transform="translate(268.60 296.15) scale(1.000 1.100)" font-size="14.00px" text-anchor="end">MSHT20 NNLO</text>
<text transform="translate(268.60 317.40) scale(1.000 1.100)" font-size="14.00px" text-anchor="end">MSHT20 NNLO oldparam</text>
<text transform="translate(268.60 338.65) scale(1.000 1.100)" font-size="14.00px" text-anchor="end">MSHT20 NNLO d<tspan dx="-6.04" dy="-7.00" font-size="12.88px">-</tspan><tspan dx="3.71" dy="7.00" font-size="0.1px">&#8203;</tspan>- u<tspan dx="-6.04" dy="-7.00" font-size="12.88px">-</tspan><tspan dx="3.71" dy="7.00" font-size="0.1px">&#8203;</tspan>4</text>
<text transform="translate(268.60 359.90) scale(1.000 1.100)" font-size="14.00px" text-anchor="end">MSHT20 NNLO d<tspan dy="3.90" font-size="11.60px">v</tspan><tspan dy="-3.90" font-size="0.1px">&#8203;</tspan> 6</text>
<text transform="translate(510.20 274.90) scale(1.000 1.100)" font-size="14.00px" text-anchor="end">MSHT20 NNLO d<tspan dx="-6.04" dy="-7.00" font-size="12.88px">-</tspan><tspan dx="3.71" dy="7.00" font-size="0.1px">&#8203;</tspan>- u<tspan dx="-6.04" dy="-7.00" font-size="12.88px">-</tspan><tspan dx="3.71" dy="7.00" font-size="0.1px">&#8203;</tspan>6</text>
<text transform="translate(510.20 296.15) scale(1.000 1.100)" font-size="14.00px" text-anchor="end">MSHT20 NNLO d<tspan dx="-6.04" dy="-7.00" font-size="12.88px">-</tspan><tspan dx="3.71" dy="7.00" font-size="0.1px">&#8203;</tspan>- u<tspan dx="-6.04" dy="-7.00" font-size="12.88px">-</tspan><tspan dx="3.71" dy="7.00" font-size="0.1px">&#8203;</tspan>4, d<tspan dy="3.90" font-size="11.60px">v</tspan><tspan dy="-3.90" font-size="0.1px">&#8203;</tspan> 6</text>
<text transform="translate(510.20 317.40) scale(1.000 1.100)" font-size="14.00px" text-anchor="end">MSHT20 NNLO d<tspan dx="-6.04" dy="-7.00" font-size="12.88px">-</tspan><tspan dx="3.71" dy="7.00" font-size="0.1px">&#8203;</tspan>/ u<tspan dx="-6.04" dy="-7.00" font-size="12.88px">-</tspan><tspan dx="3.71" dy="7.00" font-size="0.1px">&#8203;</tspan>6</text>
<text transform="translate(510.20 338.65) scale(1.000 1.100)" font-size="14.00px" text-anchor="end">MSHT20 NNLO d<tspan dx="-6.04" dy="-7.00" font-size="12.88px">-</tspan><tspan dx="3.71" dy="7.00" font-size="0.1px">&#8203;</tspan>/ u<tspan dx="-6.04" dy="-7.00" font-size="12.88px">-</tspan><tspan dx="3.71" dy="7.00" font-size="0.1px">&#8203;</tspan>6, d<tspan dy="3.90" font-size="11.60px">v</tspan><tspan dy="-3.90" font-size="0.1px">&#8203;</tspan> 6</text>
</g>
<path d="M276.7 270.5H319.6" stroke="#e8342a" stroke-width="1.65" fill="none"/>
<path d="M276.7 291.8H319.6" stroke="#1aa279" stroke-width="1.65" fill="none"/>
<path d="M276.7 313.0H319.6" stroke="#2283c2" stroke-width="1.65" fill="none"/>
<path d="M276.7 334.2H319.6" stroke="#9e2ee4" stroke-width="1.65" fill="none"/>
<path d="M276.7 355.5H319.6" stroke="#e9a41c" stroke-width="1.65" fill="none"/>
<path d="M518.7 270.5H560.4" stroke="#f1e54a" stroke-width="1.65" fill="none"/>
<path d="M518.7 291.8H560.4" stroke="#5ab6ea" stroke-width="1.65" fill="none"/>
<path d="M518.7 313.0H560.4" stroke="#1c1c1c" stroke-width="1.65" fill="none"/>
<path d="M518.7 334.2H560.4" stroke="#bbb670" stroke-width="1.65" fill="none"/>
</g>
</svg>
</body></html>
